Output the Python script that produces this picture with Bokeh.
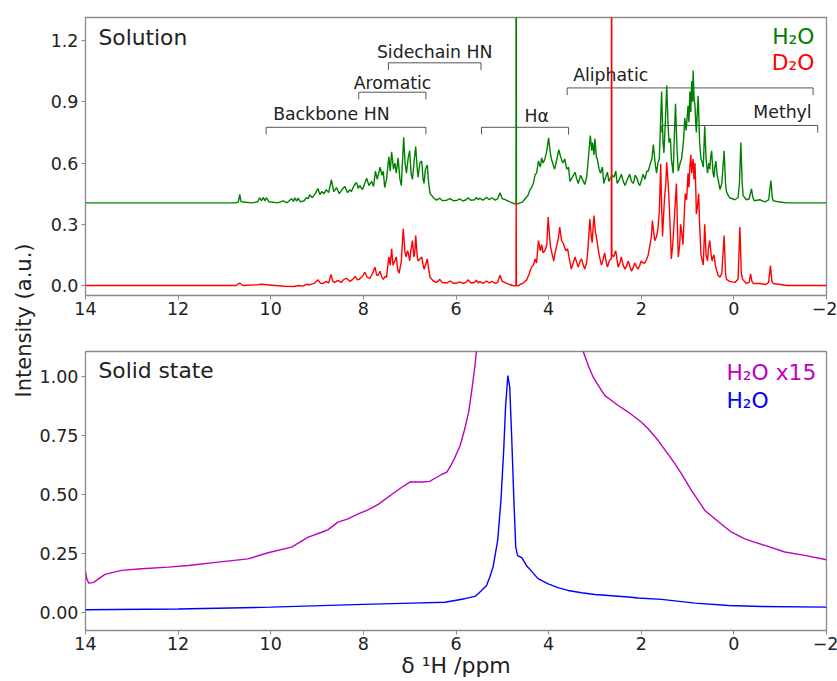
import math
from bokeh.plotting import figure
from bokeh.models import Range1d, FixedTicker, NumeralTickFormatter, CustomJSTickFormatter
from bokeh.layouts import row, column
from bokeh.core.properties import value
from bokeh.embed import file_html
from bokeh.resources import INLINE

FONT = "DejaVu Sans"

# ---------------- data: solution spectra (ppm, intensity) ----------------
h2o_ppm = [14.0, 10.75, 10.70, 10.67, 10.64, 10.4, 10.28, 10.24, 10.2, 10.16, 10.13, 10.09, 10.04, 9.85, 9.73,
           9.65, 9.55, 9.51, 9.48, 9.44, 9.41, 9.36, 9.28, 9.23, 9.19, 9.16, 9.1, 9.04, 8.98, 8.94, 8.9, 8.85,
           8.8, 8.75, 8.69, 8.64, 8.58, 8.52, 8.46, 8.40, 8.34, 8.29, 8.26, 8.2, 8.15, 8.11, 8.08, 8.02, 7.97,
           7.93, 7.88, 7.82, 7.78, 7.74, 7.70, 7.64, 7.6, 7.57, 7.54, 7.50, 7.45, 7.42, 7.39, 7.35, 7.32, 7.29,
           7.25, 7.21, 7.18, 7.13, 7.10, 7.07, 7.03, 7.0, 6.97, 6.94, 6.90, 6.87, 6.84, 6.82, 6.78, 6.74, 6.71,
           6.69, 6.66, 6.62, 6.59, 6.56, 6.52, 6.49, 6.42, 6.35, 6.3, 6.2, 6.13, 6.05, 5.98, 5.92, 5.85, 5.78,
           5.74, 5.68, 5.6, 5.56, 5.52, 5.49, 5.42, 5.34, 5.28, 5.23, 5.15, 5.1, 5.05, 5.0, 4.95, 4.88, 4.84,
           4.78, 4.73, 4.705, 4.70, 4.695, 4.66, 4.62, 4.56, 4.51, 4.45, 4.40, 4.37, 4.33, 4.29, 4.26, 4.22,
           4.18, 4.15, 4.12, 4.08, 4.04, 4.0, 3.97, 3.94, 3.90, 3.87, 3.83, 3.78, 3.74, 3.69, 3.65, 3.61, 3.57,
           3.54, 3.49, 3.43, 3.39, 3.36, 3.31, 3.27, 3.22, 3.18, 3.15, 3.10, 3.07, 3.05, 3.02, 3.0, 2.97, 2.95,
           2.91, 2.88, 2.84, 2.81, 2.77, 2.73, 2.70, 2.68, 2.63, 2.59, 2.55, 2.52, 2.47, 2.43, 2.39, 2.35, 2.30,
           2.25, 2.21, 2.17, 2.13, 2.10, 2.06, 2.03, 1.99, 1.96, 1.92, 1.88, 1.85, 1.80, 1.77, 1.74, 1.70, 1.67,
           1.64, 1.61, 1.56, 1.53, 1.51, 1.48, 1.45, 1.42, 1.40, 1.37, 1.35, 1.31, 1.29, 1.26, 1.23, 1.20, 1.16,
           1.13, 1.09, 1.06, 1.03, 0.99, 0.97, 0.95, 0.93, 0.91, 0.89, 0.88, 0.86, 0.84, 0.82, 0.81, 0.79, 0.77,
           0.74, 0.71, 0.68, 0.66, 0.63, 0.60, 0.57, 0.54, 0.52, 0.50, 0.48, 0.45, 0.43, 0.41, 0.39, 0.36, 0.34,
           0.30, 0.26, 0.21, 0.18, 0.16, 0.12, 0.09, 0.03, -0.02, -0.09, -0.12, -0.15, -0.18, -0.20, -0.27,
           -0.33, -0.38, -0.41, -0.44, -0.56, -0.67, -0.75, -0.80, -0.83, -0.85, -0.96, -1.14, -2.0]
h2o_int = [0.405, 0.405, 0.41, 0.446, 0.41, 0.405, 0.41, 0.43, 0.415, 0.432, 0.415, 0.43, 0.41, 0.405, 0.415,
           0.405, 0.425, 0.412, 0.43, 0.413, 0.428, 0.41, 0.415, 0.43, 0.425, 0.445, 0.43, 0.45, 0.475, 0.445,
           0.46, 0.45, 0.47, 0.455, 0.518, 0.46, 0.48, 0.45, 0.47, 0.485, 0.455, 0.47, 0.46, 0.49, 0.505, 0.475,
           0.49, 0.47, 0.5, 0.525, 0.49, 0.51, 0.485, 0.56, 0.52, 0.58, 0.54, 0.56, 0.48, 0.52, 0.63, 0.56,
           0.655, 0.57, 0.6, 0.55, 0.625, 0.52, 0.49, 0.726, 0.6, 0.55, 0.63, 0.66, 0.55, 0.52, 0.62, 0.68,
           0.58, 0.53, 0.6, 0.61, 0.52, 0.50, 0.57, 0.59, 0.5, 0.45, 0.44, 0.43, 0.418, 0.428, 0.416, 0.418,
           0.426, 0.415, 0.417, 0.424, 0.414, 0.42, 0.43, 0.418, 0.42, 0.432, 0.42, 0.428, 0.418, 0.432, 0.42,
           0.43, 0.418, 0.425, 0.455, 0.425, 0.422, 0.415, 0.41, 0.405, 0.40, 0.40, 3.0, 0.40, 0.40, 0.405,
           0.41, 0.425, 0.44, 0.47, 0.48, 0.5, 0.545, 0.55, 0.61, 0.58, 0.625, 0.6, 0.62, 0.66, 0.723, 0.66,
           0.62, 0.59, 0.57, 0.61, 0.665, 0.63, 0.6, 0.62, 0.57, 0.58, 0.51, 0.53, 0.555, 0.52, 0.50, 0.54,
           0.52, 0.495, 0.53, 0.6, 0.735, 0.66, 0.70, 0.64, 0.72, 0.63, 0.62, 0.57, 0.55, 0.58, 0.50, 0.53,
           0.555, 0.51, 0.52, 0.54, 0.53, 0.56, 0.50, 0.52, 0.545, 0.51, 0.49, 0.52, 0.545, 0.51, 0.50, 0.54,
           0.53, 0.5, 0.49, 0.52, 0.545, 0.52, 0.56, 0.56, 0.6, 0.62, 0.69, 0.6, 0.55, 0.6, 0.62, 0.95, 0.7,
           0.65, 0.8, 0.98, 0.78, 0.70, 0.72, 0.62, 0.55, 0.7, 0.89, 0.68, 0.56, 0.6, 0.62, 0.7, 0.82, 0.76,
           0.88, 0.8, 0.95, 0.85, 1.0, 0.9, 1.053, 0.92, 0.88, 0.78, 0.75, 0.85, 0.93, 0.7, 0.62, 0.6, 0.58,
           0.78, 0.62, 0.55, 0.6, 0.57, 0.63, 0.66, 0.55, 0.53, 0.58, 0.61, 0.54, 0.52, 0.47, 0.5, 0.66, 0.5,
           0.46, 0.44, 0.43, 0.425, 0.42, 0.43, 0.5, 0.70, 0.5, 0.44, 0.42, 0.425, 0.474, 0.43, 0.415, 0.42,
           0.41, 0.42, 0.514, 0.43, 0.415, 0.41, 0.405, 0.405]

d2o_ppm = [14.0, 10.75, 10.67, 10.6, 10.3, 10.2, 10.1, 9.9, 9.7, 9.5, 9.4, 9.3, 9.23, 9.15, 9.05, 8.98, 8.93,
           8.87, 8.80, 8.75, 8.70, 8.66, 8.62, 8.55, 8.48, 8.42, 8.36, 8.29, 8.23, 8.18, 8.13, 8.08, 8.02, 7.97,
           7.92, 7.86, 7.80, 7.75, 7.71, 7.68, 7.64, 7.6, 7.57, 7.53, 7.50, 7.45, 7.42, 7.39, 7.36, 7.32, 7.29,
           7.26, 7.23, 7.18, 7.14, 7.10, 7.08, 7.05, 7.03, 7.0, 6.97, 6.94, 6.91, 6.89, 6.87, 6.84, 6.82, 6.78,
           6.74, 6.71, 6.69, 6.66, 6.62, 6.59, 6.56, 6.52, 6.49, 6.42, 6.35, 6.3, 6.2, 6.13, 6.05, 5.98, 5.92,
           5.85, 5.78, 5.74, 5.68, 5.6, 5.56, 5.52, 5.49, 5.42, 5.34, 5.28, 5.23, 5.15, 5.1, 5.05, 5.0, 4.95,
           4.88, 4.84, 4.78, 4.73, 4.705, 4.70, 4.695, 4.66, 4.62, 4.56, 4.51, 4.48, 4.43, 4.37, 4.33, 4.29,
           4.26, 4.22, 4.18, 4.15, 4.12, 4.08, 4.04, 4.01, 3.98, 3.96, 3.92, 3.89, 3.86, 3.83, 3.79, 3.76, 3.72,
           3.69, 3.66, 3.63, 3.59, 3.56, 3.51, 3.47, 3.43, 3.39, 3.36, 3.32, 3.29, 3.25, 3.22, 3.18, 3.15, 3.11,
           3.08, 3.06, 3.04, 3.02, 2.99, 2.97, 2.93, 2.91, 2.86, 2.82, 2.79, 2.76, 2.73, 2.69, 2.66, 2.645,
           2.64, 2.635, 2.60, 2.55, 2.50, 2.46, 2.43, 2.39, 2.35, 2.31, 2.28, 2.24, 2.21, 2.17, 2.14, 2.10,
           2.07, 2.03, 2.0, 1.96, 1.92, 1.88, 1.85, 1.81, 1.78, 1.76, 1.73, 1.71, 1.67, 1.64, 1.61, 1.58, 1.56,
           1.54, 1.52, 1.50, 1.47, 1.45, 1.42, 1.40, 1.37, 1.35, 1.32, 1.28, 1.24, 1.22, 1.20, 1.17, 1.15,
           1.12, 1.10, 1.07, 1.05, 1.02, 0.99, 0.97, 0.95, 0.93, 0.91, 0.89, 0.88, 0.86, 0.84, 0.82, 0.81,
           0.79, 0.76, 0.74, 0.71, 0.68, 0.66, 0.63, 0.60, 0.57, 0.55, 0.52, 0.49, 0.47, 0.45, 0.43, 0.40,
           0.38, 0.34, 0.30, 0.26, 0.21, 0.18, 0.16, 0.09, -0.02, -0.09, -0.13, -0.16, -0.19, -0.27, -0.33,
           -0.36, -0.39, -0.42, -0.56, -0.69, -0.75, -0.79, -0.82, -0.85, -1.0, -1.14, -2.0]
d2o_int = [0.0, 0.0, 0.012, 0.0, 0.003, 0.006, 0.004, 0.0, -0.004, -0.005, 0.0, -0.003, 0.006, 0.004, 0.012,
           0.028, 0.012, 0.01, 0.02, 0.012, 0.054, 0.02, 0.015, 0.025, 0.015, 0.03, 0.035, 0.02, 0.03, 0.045,
           0.028, 0.032, 0.045, 0.065, 0.04, 0.035, 0.06, 0.09, 0.05, 0.05, 0.07, 0.04, 0.03, 0.045, 0.04,
           0.14, 0.1, 0.18, 0.10, 0.12, 0.14, 0.08, 0.06, 0.12, 0.278, 0.16, 0.14, 0.17, 0.16, 0.12, 0.18, 0.22,
           0.14, 0.16, 0.245, 0.15, 0.12, 0.13, 0.14, 0.1, 0.08, 0.1, 0.13, 0.08, 0.04, 0.03, 0.022, 0.015,
           0.03, 0.015, 0.012, 0.022, 0.01, 0.012, 0.018, 0.01, 0.015, 0.028, 0.012, 0.015, 0.026, 0.012, 0.02,
           0.01, 0.022, 0.012, 0.02, 0.01, 0.015, 0.05, 0.02, 0.015, 0.008, 0.005, 0.0, -0.002, 0.0, 0.41, 0.0,
           -0.002, 0.005, 0.01, 0.02, 0.025, 0.05, 0.09, 0.1, 0.13, 0.11, 0.22, 0.17, 0.2, 0.16, 0.17, 0.2,
           0.335, 0.24, 0.19, 0.15, 0.12, 0.16, 0.19, 0.23, 0.286, 0.22, 0.21, 0.19, 0.17, 0.18, 0.14, 0.08,
           0.11, 0.14, 0.11, 0.09, 0.12, 0.13, 0.1, 0.08, 0.11, 0.18, 0.326, 0.24, 0.21, 0.28, 0.343, 0.26,
           0.24, 0.18, 0.15, 0.10, 0.13, 0.16, 0.12, 0.09, 0.12, 0.13, 0.13, 3.0, 0.15, 0.14, 0.17, 0.09, 0.11,
           0.14, 0.1, 0.08, 0.1, 0.12, 0.09, 0.07, 0.09, 0.11, 0.09, 0.08, 0.1, 0.12, 0.11, 0.11, 0.13, 0.15,
           0.2, 0.24, 0.318, 0.26, 0.22, 0.24, 0.28, 0.36, 0.596, 0.38, 0.24, 0.33, 0.42, 0.5, 0.604, 0.5, 0.42,
           0.25, 0.13, 0.2, 0.35, 0.50, 0.3, 0.14, 0.2, 0.30, 0.25, 0.20, 0.35, 0.45, 0.42, 0.55, 0.48, 0.58,
           0.64, 0.55, 0.6, 0.62, 0.52, 0.60, 0.45, 0.35, 0.38, 0.45, 0.3, 0.15, 0.12, 0.10, 0.30, 0.15, 0.12,
           0.18, 0.22, 0.15, 0.12, 0.14, 0.15, 0.1, 0.08, 0.05, 0.04, 0.06, 0.245, 0.06, 0.03, 0.02, 0.015,
           0.03, 0.286, 0.06, 0.03, 0.01, 0.015, 0.057, 0.02, 0.01, 0.01, 0.005, 0.015, 0.098, 0.02, 0.01,
           0.005, 0.0, 0.0]

# ---------------- data: solid-state spectra ----------------
ss15_ppm = [14.0, 13.97, 13.93, 13.83, 13.58, 13.22, 12.79, 12.21, 11.78, 11.14, 10.49, 10.06, 9.55, 9.19,
            8.9, 8.76, 8.55, 8.33, 8.11, 7.90, 7.68, 7.39, 7.17, 7.0, 6.74, 6.57, 6.46, 6.31, 6.20, 6.13, 6.02,
            5.91, 5.81, 5.72, 5.65, 5.59, 5.56, 4.9, 3.253, 3.145, 3.037, 2.929, 2.785, 2.642, 2.498, 2.282,
            1.994, 1.850, 1.634, 1.454, 1.275, 1.130, 0.914, 0.770, 0.626, 0.41, 0.194, 0.05, -0.237, -0.669,
            -1.10, -1.53, -2.0]
ss15_int = [0.17, 0.14, 0.123, 0.125, 0.16, 0.177, 0.184, 0.191, 0.198, 0.212, 0.226, 0.252, 0.276, 0.318,
            0.339, 0.35, 0.382, 0.396, 0.417, 0.434, 0.457, 0.499, 0.53, 0.552, 0.552, 0.555, 0.567, 0.584,
            0.594, 0.615, 0.658, 0.707, 0.778, 0.856, 0.955, 1.047, 1.106, 15.0, 1.106, 1.047, 0.997, 0.962,
            0.919, 0.898, 0.877, 0.849, 0.806, 0.778, 0.728, 0.679, 0.630, 0.587, 0.516, 0.474, 0.431, 0.396,
            0.361, 0.339, 0.311, 0.283, 0.255, 0.241, 0.222]
ss_ppm = [14.0, 12.0, 10.0, 8.0, 6.96, 6.24, 5.81, 5.59, 5.52, 5.34, 5.27, 5.20, 5.10, 5.03, 4.97, 4.93, 4.88,
          4.84, 4.80, 4.75, 4.71, 4.67, 4.58, 4.48, 4.37, 4.23, 4.01, 3.80, 3.58, 3.29, 3.0, 2.28, 2.07, 1.56,
          0.84, 0.12, -0.60, -2.0]
ss_int = [0.01, 0.013, 0.021, 0.033, 0.038, 0.042, 0.057, 0.067, 0.078, 0.113, 0.149, 0.191, 0.304, 0.474,
          0.686, 0.87, 1.004, 0.955, 0.757, 0.474, 0.276, 0.24, 0.231, 0.198, 0.174, 0.142, 0.12, 0.104, 0.092,
          0.082, 0.075, 0.064, 0.06, 0.054, 0.038, 0.028, 0.024, 0.021]

# region brackets: label, start ppm, end ppm, bracket level
region_names = ["Backbone HN", "Aromatic", "Sidechain HN", "H\u03b1", "Aliphatic", "Methyl"]
region_start = [10.1, 8.1, 7.46, 5.45, 3.6, 1.56]
region_end = [6.65, 6.65, 5.46, 3.57, -1.71, -1.81]
region_level = [0.775, 0.947, 1.091, 0.775, 0.968, 0.784]

x_ticks = [14, 12, 10, 8, 6, 4, 2, 0, -2]
top_yticks = [0.0, 0.3, 0.6, 0.9, 1.2]
bot_yticks = [0.0, 0.25, 0.5, 0.75, 1.0]

GREEN = "#008000"
RED = "#ff0000"
MAG = "#bf00bf"
BLUE = "#0000ff"
FRAME = "#8a8a8a"
TXT = "#222222"


def style(p, yticks, yfmt):
    p.xgrid.visible = False
    p.ygrid.visible = False
    p.outline_line_color = FRAME
    p.outline_line_width = 1.3
    for ax in (p.xaxis[0], p.yaxis[0]):
        ax.axis_line_color = None
        ax.major_tick_line_color = FRAME
        ax.major_tick_out = 4
        ax.major_tick_in = 0
        ax.minor_tick_line_color = None
        ax.major_label_text_font = FONT
        ax.major_label_text_font_size = "17.5px"
        ax.major_label_text_color = TXT
    p.xaxis.ticker = FixedTicker(ticks=x_ticks)
    p.xaxis.formatter = CustomJSTickFormatter(
        code="return tick < 0 ? '\u2212' + Math.abs(tick) : String(tick);")
    p.xaxis.major_label_standoff = 2
    p.yaxis.ticker = FixedTicker(ticks=yticks)
    p.yaxis.formatter = NumeralTickFormatter(format=yfmt)
    p.yaxis.major_label_standoff = 3


def txt(p, x, y, s, color=TXT, size="17.3px", align="center"):
    p.text(x=[x], y=[y], text=[s], text_color=color, text_font=value(FONT), text_font_size=size,
           text_align=align, text_baseline="middle")


# ---------------- top panel ----------------
p1 = figure(frame_width=741, frame_height=278, min_border_left=48, min_border_right=12, min_border_top=17,
            min_border_bottom=40, x_range=Range1d(14, -2), y_range=Range1d(-0.049, 1.313),
            toolbar_location=None, output_backend="svg")
style(p1, top_yticks, "0.0")

bx, by = [], []
for s, e, lv in zip(region_start, region_end, region_level):
    bx.append([s, s, e, e])
    by.append([lv - 0.035, lv, lv, lv - 0.035])
p1.multi_line(xs=bx, ys=by, line_color="#555555", line_width=1)

txt(p1, 8.69, 0.838, "Backbone HN")
txt(p1, 7.37, 0.994, "Aromatic")
txt(p1, 6.46, 1.143, "Sidechain HN")
txt(p1, 4.26, 0.828, "H\u03b1")
txt(p1, 2.66, 1.033, "Aliphatic")
txt(p1, -1.05, 0.852, "Methyl")

p1.line(h2o_ppm, h2o_int, line_color=GREEN, line_width=1.4)
p1.line(d2o_ppm, d2o_int, line_color=RED, line_width=1.4)

txt(p1, 13.72, 1.216, "Solution", size="21.8px", align="left")
txt(p1, -1.74, 1.22, "H\u2082O", color=GREEN, size="21.8px", align="right")
txt(p1, -1.74, 1.092, "D\u2082O", color=RED, size="21.8px", align="right")

# ---------------- bottom panel ----------------
p2 = figure(frame_width=741, frame_height=279, min_border_left=48, min_border_right=12, min_border_top=16,
            min_border_bottom=48, x_range=Range1d(14, -2), y_range=Range1d(-0.078, 1.106),
            toolbar_location=None, output_backend="svg")
style(p2, bot_yticks, "0.00")
p2.xaxis.axis_label = "\u03b4 \u00b9H /ppm"
p2.xaxis.axis_label_text_font = FONT
p2.xaxis.axis_label_text_font_style = "normal"
p2.xaxis.axis_label_text_font_size = "22px"
p2.xaxis.axis_label_text_color = TXT
p2.xaxis.axis_label_standoff = 0

p2.line(ss15_ppm, ss15_int, line_color=MAG, line_width=1.4)
p2.line(ss_ppm, ss_int, line_color=BLUE, line_width=1.4)

txt(p2, 13.72, 1.025, "Solid state", size="21.8px", align="left")
txt(p2, 0.16, 1.018, "H\u2082O x15", color=MAG, size="21.8px", align="left")
txt(p2, 0.16, 0.898, "H\u2082O", color=BLUE, size="21.8px", align="left")

# ---------------- shared y label ----------------
p0 = figure(width=36, height=681, x_range=Range1d(0, 36), y_range=Range1d(0, 681), x_axis_type=None,
            y_axis_type=None, min_border=0, toolbar_location=None, output_backend="svg")
p0.outline_line_color = None
p0.xgrid.visible = False
p0.ygrid.visible = False
p0.text(x=[23], y=[361], text=["Intensity (a.u.)"], angle=math.pi / 2, text_align="center",
        text_baseline="middle", text_color=TXT, text_font=value(FONT), text_font_size="21px")

layout = row(p0, column(p1, p2))
open("out.html", "w").write(file_html(layout, INLINE))
